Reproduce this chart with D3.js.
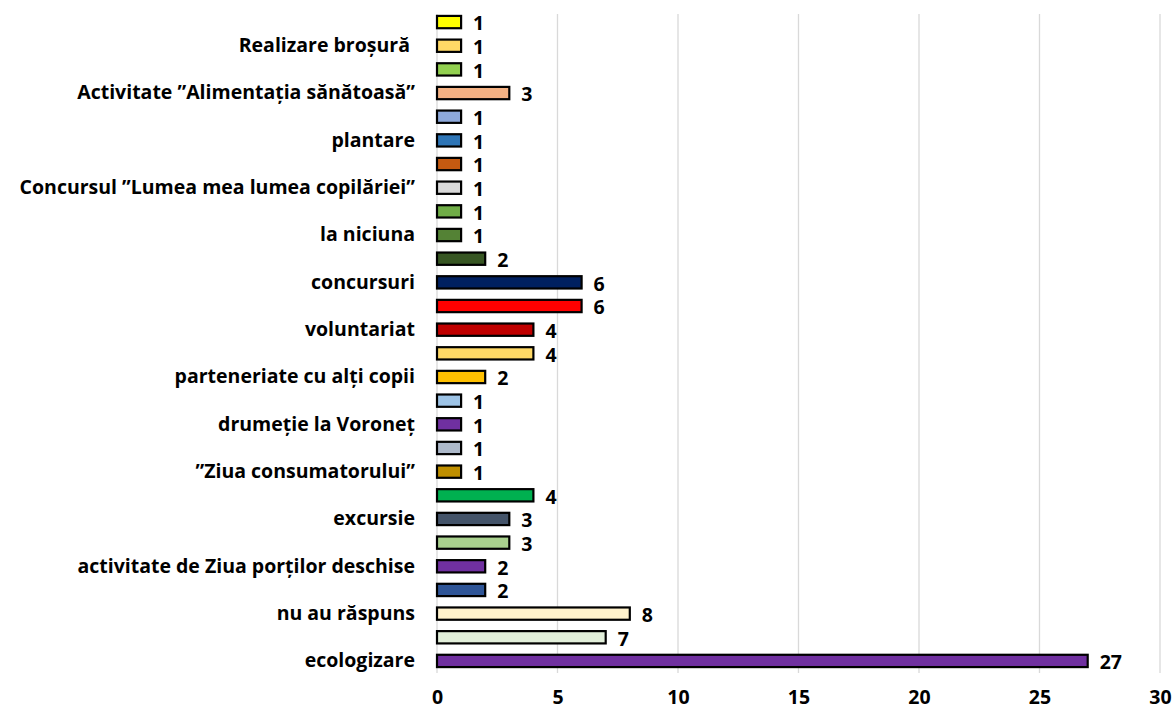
<!DOCTYPE html>
<html>
<head>
<meta charset="utf-8">
<script src="https://cdn.jsdelivr.net/npm/d3@7"></script>
<style>
  body { margin: 0; background: #fff; }
  text { font-family: "Open Sans", sans-serif; font-weight: bold; fill: #000; white-space: pre; }
</style>
</head>
<body>
<svg width="1176" height="713"></svg>
<script>
// top to bottom; Excel hides every other category label, so those are blank
var labels = ["", "Realizare broșură ", "", "Activitate ”Alimentația sănătoasă”", "", "plantare", "",
  "Concursul ”Lumea mea lumea copilăriei”", "", "la niciuna", "", "concursuri", "", "voluntariat", "",
  "parteneriate cu alți copii", "", "drumeție la Voroneț", "", "”Ziua consumatorului”", "", "excursie", "",
  "activitate de Ziua porților deschise", "", "nu au răspuns", "", "ecologizare"];
var values = [1, 1, 1, 3, 1, 1, 1, 1, 1, 1, 2, 6, 6, 4, 4, 2, 1, 1, 1, 1, 4, 3, 3, 2, 2, 8, 7, 27];
var colors = ["#FFFF00", "#FFD966", "#92D050", "#F4B183", "#8EA9DB", "#2E75B6", "#C55A11", "#D9D9D9",
  "#70AD47", "#548235", "#375623", "#002060", "#FF0000", "#C00000", "#FFD966", "#FFC000", "#9DC3E6",
  "#7030A0", "#ADB9CA", "#BF8F00", "#00B050", "#44546A", "#A9D18E", "#7030A0", "#2F5597", "#FFF2CC",
  "#E2EFDA", "#7030A0"];
var xTicks = [0, 5, 10, 15, 20, 25, 30];
var fs = 19.5;

var svg = d3.select("svg"),
    margin = {top: 10, right: 16, bottom: 40, left: 437},
    width = +svg.attr("width") - margin.left - margin.right,
    height = +svg.attr("height") - margin.top - margin.bottom,
    g = svg.append("g").attr("transform", "translate(" + margin.left + "," + margin.top + ")");

var x = d3.scaleLinear().domain([0, 30]).range([0, width]);
var y = d3.scaleBand().domain(d3.range(values.length)).range([0, height]).paddingInner(0.48).paddingOuter(0.25);

// gridlines
g.append("g")
  .selectAll("line")
  .data(xTicks)
  .enter().append("line")
    .attr("x1", function(d) { return x(d); })
    .attr("x2", function(d) { return x(d); })
    .attr("y1", 4)
    .attr("y2", height)
    .attr("stroke", "#D9D9D9")
    .attr("stroke-width", 1.3);

// x tick labels
g.append("g")
  .attr("transform", "translate(0," + height + ")")
  .call(d3.axisBottom(x).tickValues(xTicks).tickSize(0).tickPadding(17))
  .call(function(a) { a.select(".domain").remove(); })
  .selectAll("text")
    .attr("font-size", fs)
    .style("font-family", "'Open Sans', sans-serif");

// category labels
g.append("g")
  .call(d3.axisLeft(y).tickSize(0).tickPadding(22).tickFormat(function(i) { return labels[i]; }))
  .call(function(a) { a.select(".domain").remove(); })
  .selectAll("text")
    .attr("font-size", fs)
    .style("font-family", "'Open Sans', sans-serif");

g.append("g")
  .selectAll("rect")
  .data(values)
  .enter().append("rect")
    .attr("x", x(0))
    .attr("y", function(d, i) { return y(i); })
    .attr("width", function(d) { return x(d) - x(0); })
    .attr("height", y.bandwidth())
    .attr("fill", function(d, i) { return colors[i]; })
    .attr("stroke", "#000")
    .attr("stroke-width", 2.2);

g.append("g")
  .selectAll("text")
  .data(values)
  .enter().append("text")
    .attr("x", function(d) { return x(d) + 12; })
    .attr("y", function(d, i) { return y(i) + y.bandwidth() / 2 + 2; })
    .attr("dy", "0.32em")
    .attr("font-size", fs)
    .text(function(d) { return d; });
</script>
</body>
</html>
